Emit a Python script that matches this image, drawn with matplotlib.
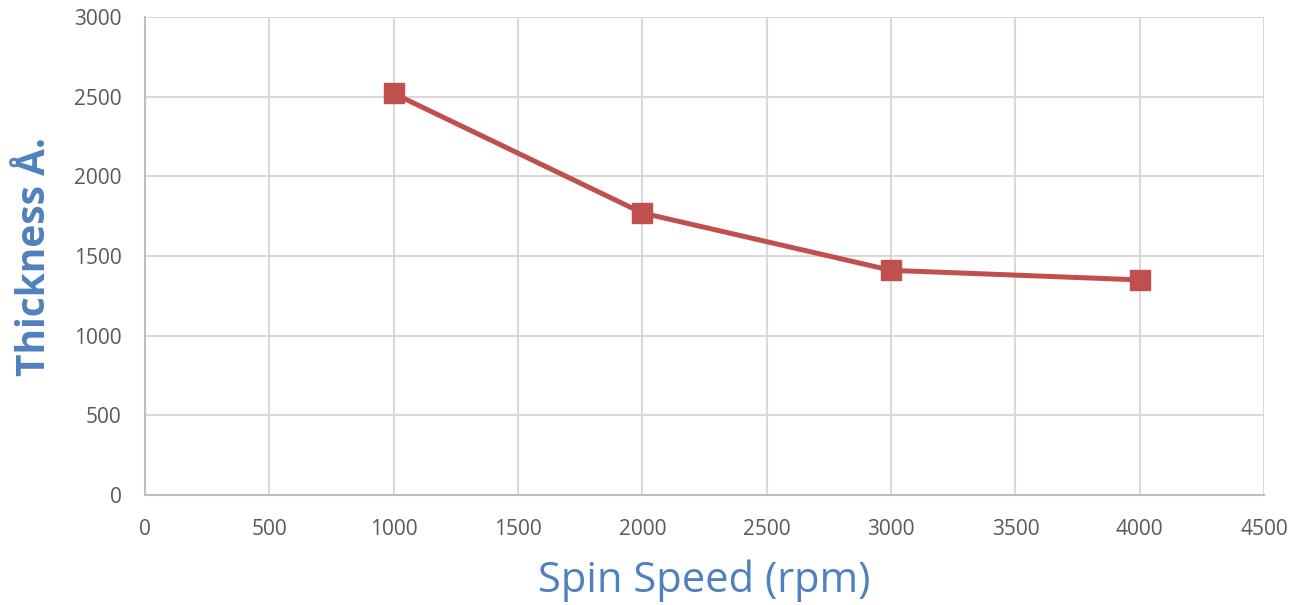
import matplotlib.pyplot as plt

spin_speed = [1000, 2000, 3000, 4000]
thickness = [2520, 1770, 1410, 1350]
x_ticks = [0, 500, 1000, 1500, 2000, 2500, 3000, 3500, 4000, 4500]
y_ticks = [0, 500, 1000, 1500, 2000, 2500, 3000]

plt.rcParams['font.family'] = ['Open Sans', 'DejaVu Sans']

fig = plt.figure(figsize=(13.01, 6.05), dpi=100)
ax = fig.add_axes([0.1115, 0.1818, 0.8601, 0.7901])

ax.plot(spin_speed, thickness, color='#C0504D', lw=3.6, marker='s',
        markersize=14, markerfacecolor='#C0504D', markeredgecolor='#C0504D', zorder=3)

ax.set_xlim(0, 4500)
ax.set_ylim(0, 3000)
ax.set_xticks(x_ticks)
ax.set_yticks(y_ticks)
ax.grid(True, color='#D9D9D9', lw=1.5)
ax.set_axisbelow(True)
for s in ['top', 'right']:
    ax.spines[s].set_visible(False)
for s in ['left', 'bottom']:
    ax.spines[s].set_color('#BFBFBF')
    ax.spines[s].set_linewidth(1.5)
ax.tick_params(length=0, labelsize=15, labelcolor='#595959')
ax.tick_params(axis='y', pad=17)
ax.tick_params(axis='x', pad=17)

ax.set_xlabel('Spin Speed (rpm)', fontsize=30, color='#4F81BD', labelpad=14)
ax.set_ylabel('Thickness Å.', fontsize=28, color='#4F81BD', fontweight='bold', labelpad=14)

fig.savefig('out.png', dpi=100)
